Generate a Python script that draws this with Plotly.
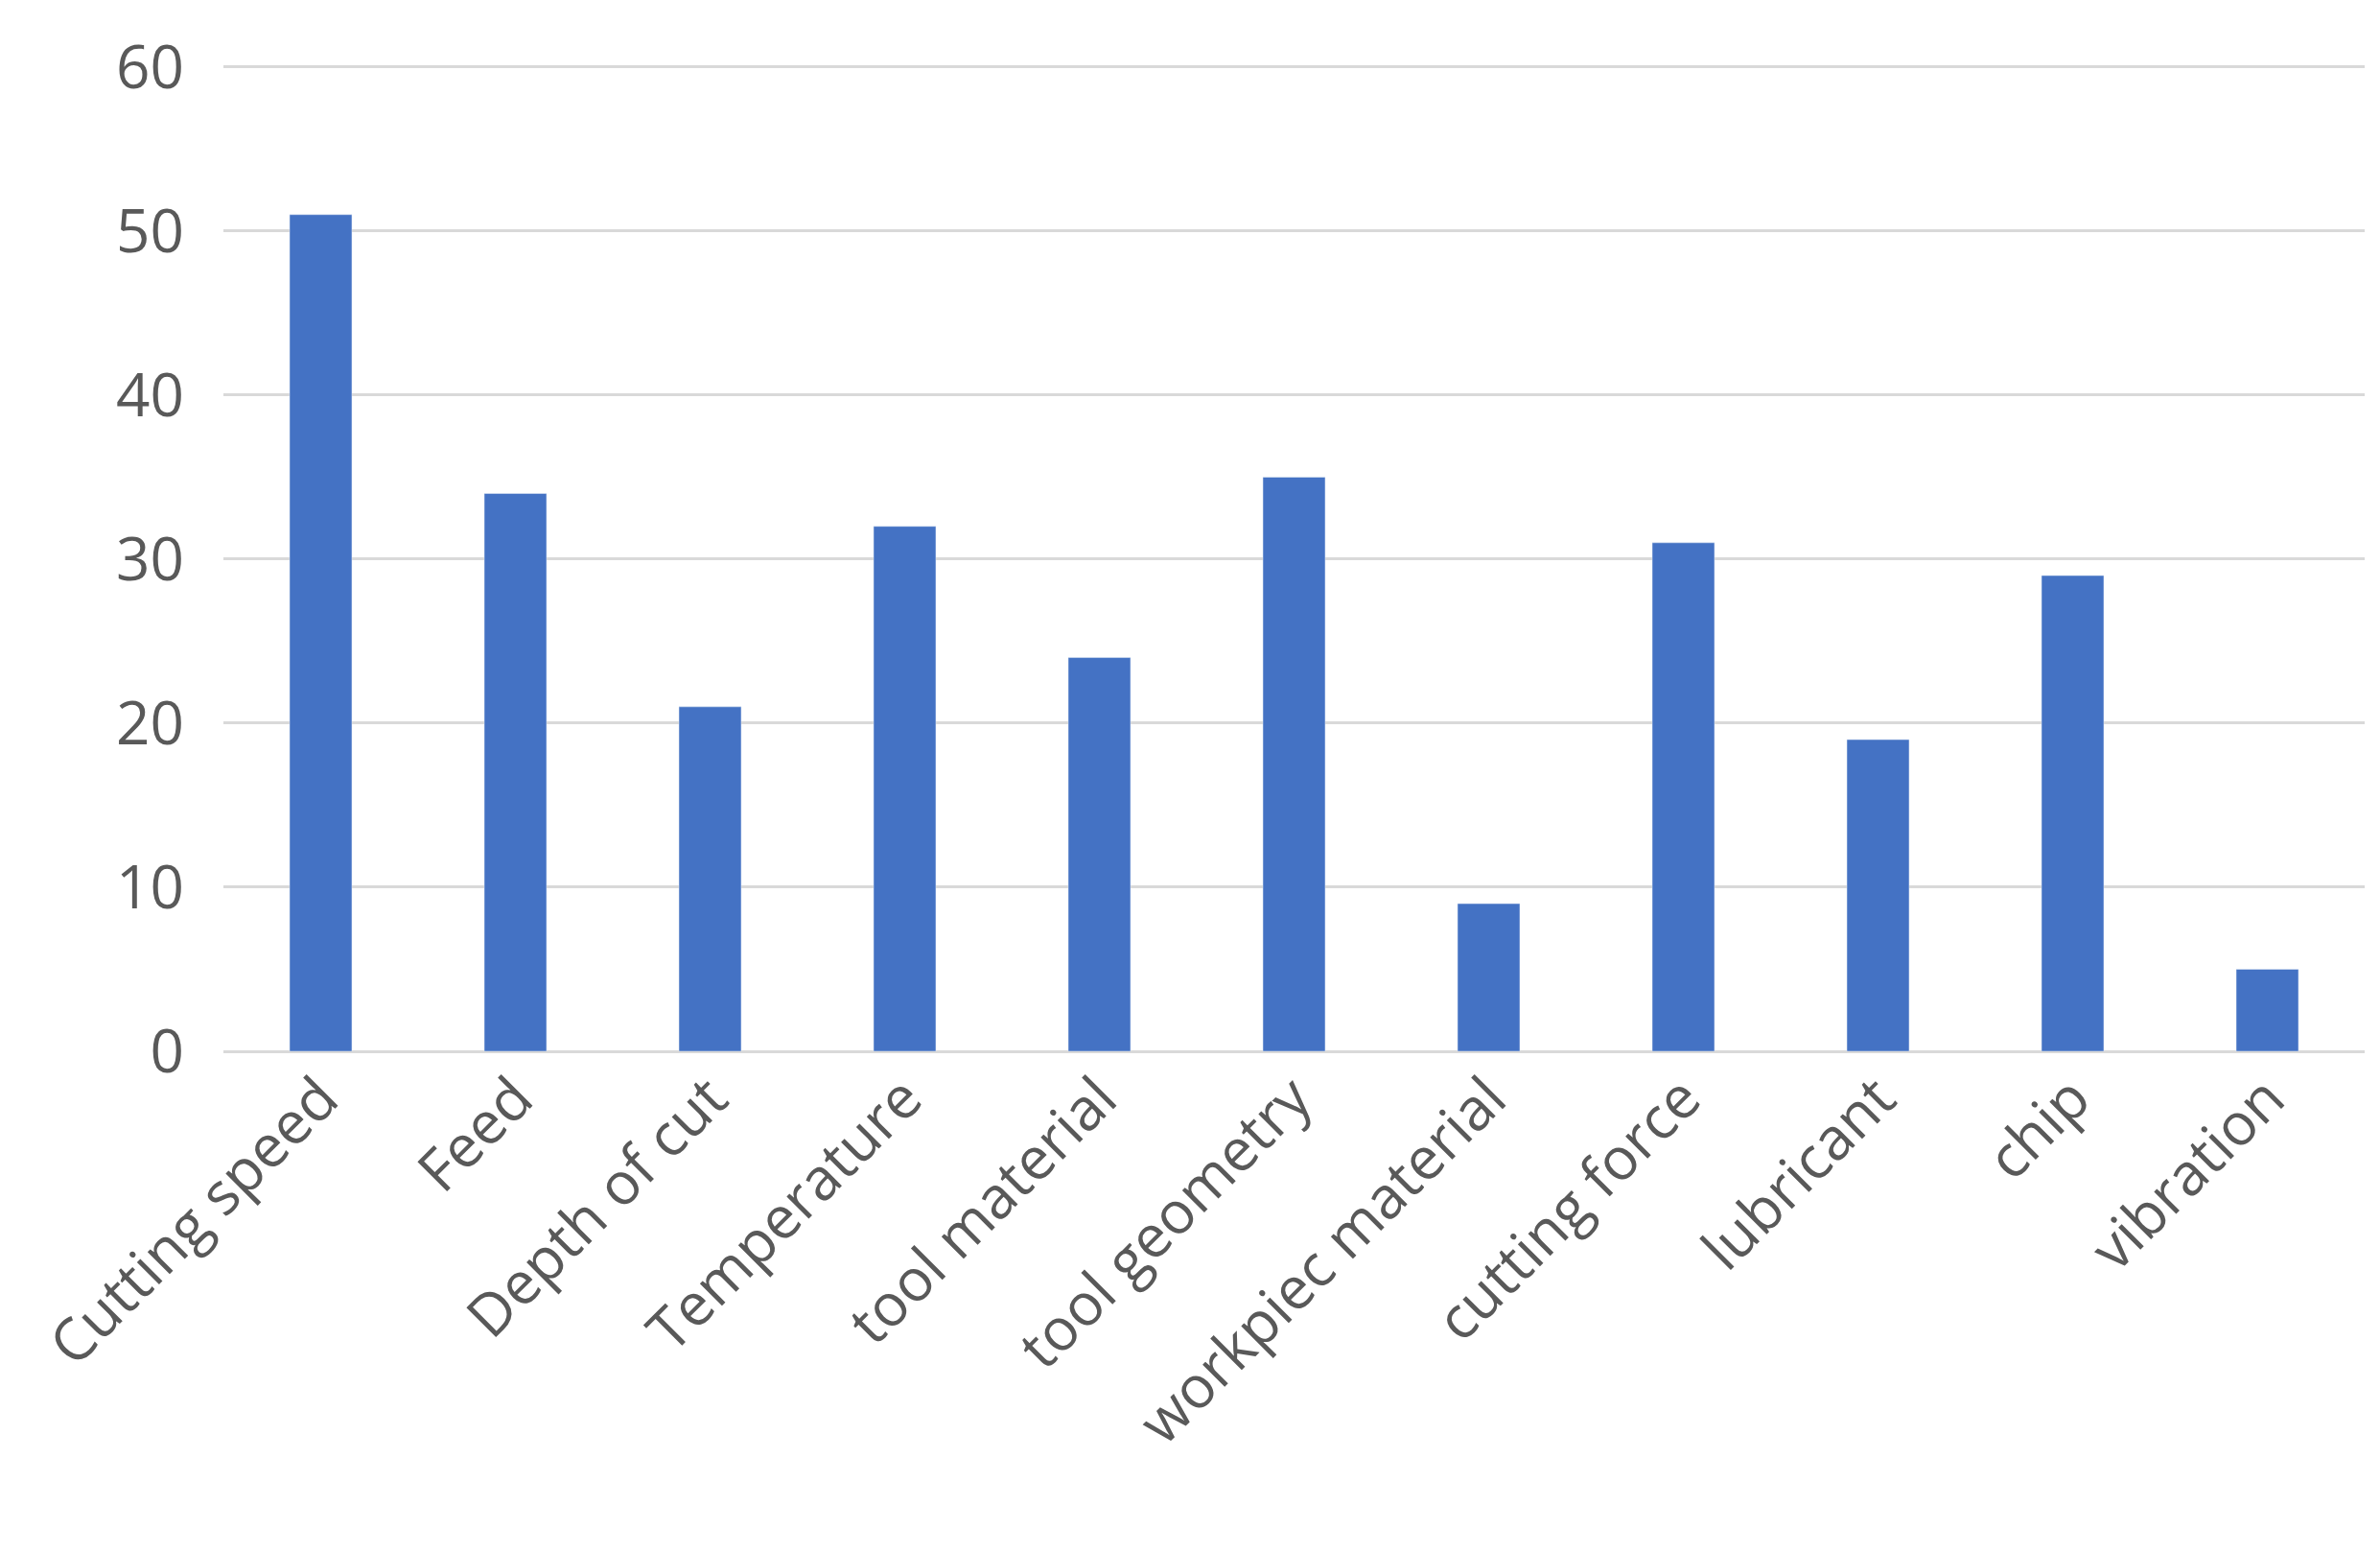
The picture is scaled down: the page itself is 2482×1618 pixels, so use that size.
import plotly.graph_objects as go

categories = ["Cutting speed", "Feed", "Depth of cut", "Temperature", "tool material",
              "tool geometry", "workpiec material", "cutting force", "lubricant", "chip", "vibration"]
values = [51, 34, 21, 32, 24, 35, 9, 31, 19, 29, 5]

fig = go.Figure(go.Bar(x=categories, y=values, marker_color="#4472C4", width=0.32))
fig.update_layout(
    width=2482, height=1618, plot_bgcolor="white", paper_bgcolor="white",
    margin=dict(l=225, r=24, t=55, b=530), showlegend=False,
    font=dict(family="Open Sans", color="#595959", size=60),
)
fig.update_yaxes(range=[0, 60.4], tickvals=[0, 10, 20, 30, 40, 50, 60],
                 showgrid=True, gridcolor="#d9d9d9", gridwidth=3,
                 zeroline=True, zerolinecolor="#d9d9d9", zerolinewidth=3,
                 tickfont=dict(size=62), ticklabelstandoff=40)
fig.update_xaxes(tickangle=-45, tickfont=dict(size=61), showline=False, ticks="")
fig.write_html("out.html")
